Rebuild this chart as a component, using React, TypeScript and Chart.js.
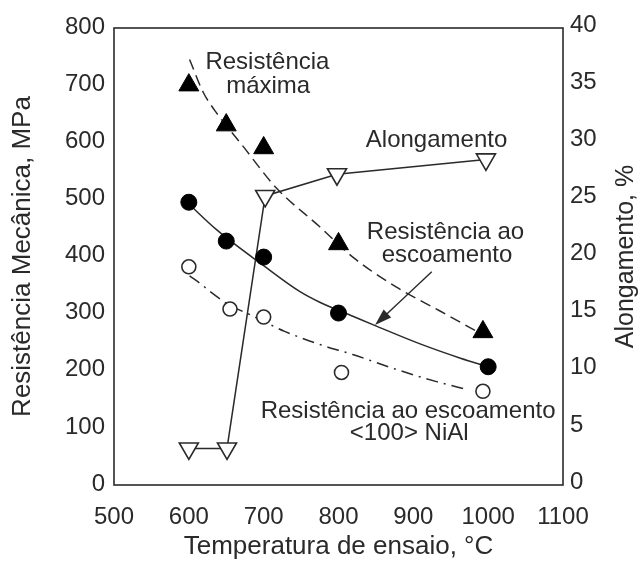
import React, { useEffect, useRef } from "react";
import { Chart, registerables } from "chart.js";

Chart.register(...registerables);

// ---- axis ranges ----
const X_MIN = 500;
const X_MAX = 1100;
const X_STEP = 100;
const Y_MIN = 0;
const Y_MAX = 800;
const Y_STEP = 100;
const Y1_MIN = 0;
const Y1_MAX = 40;
const Y1_STEP = 5;

// ---- Resistência máxima (filled triangles) ----
const maxStrengthTemp = [600, 650, 700, 800, 993];
const maxStrength = [700, 630, 590, 422, 268];
// dashed trend curve
const maxFitTemp = [601, 619, 635, 670, 717, 775, 820, 878, 935, 990];
const maxFit = [745, 688, 655, 597, 520, 452, 398, 346, 305, 265];

// ---- Resistência ao escoamento (filled circles) ----
const yieldTemp = [600, 650, 700, 800, 1000];
const yieldStrength = [495, 427, 399, 301, 207];
// solid trend curve
const yieldFitTemp = [600, 637, 700, 748, 775, 820, 849, 909, 963, 1000];
const yieldFit = [492, 447, 384, 339, 320, 295, 279, 247, 222, 207];

// ---- Resistência ao escoamento <100> NiAl (open circles) ----
const nialTemp = [600, 655, 700, 804, 993];
const nialStrength = [382, 308, 294, 197, 164];
// dash-dot trend curve
const nialFitTemp = [601, 617, 628, 653, 682, 728, 775, 820, 878, 931, 972];
const nialFit = [366, 351, 339, 316, 298, 269, 246, 228, 202, 181, 167];

// ---- Alongamento (open inverted triangles, right axis, %) ----
const elongTemp = [600, 651, 702, 798, 997];
const elongation = [3.2, 3.2, 25.3, 27.2, 28.5];

// ---- annotations (text baseline centre, in data units) ----
const noteTexts = [
  "Resistência",
  "máxima",
  "Alongamento",
  "Resistência ao",
  "escoamento",
  "Resistência ao escoamento",
  "<100> NiAl",
];
const noteTemp = [705, 706, 931, 943, 945, 893, 894.5];
const noteMPa = [729, 687, 592, 430, 391, 117, 79];

// arrow (from -> tip), data units
const arrowTemp = [924.6, 848.8];
const arrowMPa = [373.4, 280];

const X_TITLE = "Temperatura de ensaio, °C";
const Y_TITLE = "Resistência Mecânica, MPa";
const Y1_TITLE = "Alongamento, %";

const FONT = "'Liberation Sans', Arial, Helvetica, sans-serif";
const INK = "#2a2a2a";

const pts = (xs: number[], ys: number[]) => xs.map((x, i) => ({ x, y: ys[i] }));
const plain = (v: any) => String(v);

export default function App() {
  const ref = useRef<HTMLCanvasElement>(null);

  useEffect(() => {
    const canvas = ref.current;
    if (!canvas) return;

    const decor = {
      id: "decor",
      beforeDatasetsDraw(chart: any) {
        const { ctx, chartArea: a } = chart;
        ctx.save();
        ctx.strokeStyle = INK;
        ctx.lineWidth = 1.6;
        ctx.strokeRect(a.left, a.top, a.right - a.left, a.bottom - a.top);
        ctx.restore();
      },
      afterDatasetsDraw(chart: any) {
        const { ctx, scales, chartArea: a } = chart;
        const xs = scales.x;
        const ys = scales.y;
        ctx.save();
        ctx.fillStyle = INK;
        ctx.font = `24px ${FONT}`;
        ctx.textAlign = "center";
        ctx.textBaseline = "alphabetic";
        noteTexts.forEach((t, i) => {
          ctx.fillText(t, xs.getPixelForValue(noteTemp[i]), ys.getPixelForValue(noteMPa[i]));
        });

        // arrow
        const x0 = xs.getPixelForValue(arrowTemp[0]);
        const y0 = ys.getPixelForValue(arrowMPa[0]);
        const x1 = xs.getPixelForValue(arrowTemp[1]);
        const y1 = ys.getPixelForValue(arrowMPa[1]);
        const ang = Math.atan2(y1 - y0, x1 - x0);
        const L = 17;
        const W = 5.5;
        ctx.strokeStyle = INK;
        ctx.lineWidth = 1.4;
        ctx.beginPath();
        ctx.moveTo(x0, y0);
        ctx.lineTo(x1 - Math.cos(ang) * L * 0.8, y1 - Math.sin(ang) * L * 0.8);
        ctx.stroke();
        ctx.beginPath();
        ctx.moveTo(x1, y1);
        ctx.lineTo(
          x1 - Math.cos(ang) * L + Math.sin(ang) * W,
          y1 - Math.sin(ang) * L - Math.cos(ang) * W
        );
        ctx.lineTo(
          x1 - Math.cos(ang) * L - Math.sin(ang) * W,
          y1 - Math.sin(ang) * L + Math.cos(ang) * W
        );
        ctx.closePath();
        ctx.fill();

        // right axis title, reading bottom-to-top
        ctx.font = `25px ${FONT}`;
        ctx.textBaseline = "middle";
        ctx.translate(a.right + 63, (a.top + a.bottom) / 2);
        ctx.rotate(-Math.PI / 2);
        ctx.fillText(Y1_TITLE, 0, 0);
        ctx.restore();
      },
    };

    const chart = new Chart(canvas, {
      type: "line",
      data: {
        datasets: [
          {
            label: "Resistência máxima",
            data: pts(maxStrengthTemp, maxStrength),
            showLine: false,
            pointStyle: "triangle",
            pointRadius: 11.5,
            pointBackgroundColor: "#000",
            pointBorderColor: "#000",
            pointBorderWidth: 1,
            yAxisID: "y",
            order: 1,
          },
          {
            label: "Resistência ao escoamento",
            data: pts(yieldTemp, yieldStrength),
            showLine: false,
            pointStyle: "circle",
            pointRadius: 8,
            pointBackgroundColor: "#000",
            pointBorderColor: "#000",
            pointBorderWidth: 1,
            yAxisID: "y",
            order: 1,
          },
          {
            label: "Resistência ao escoamento <100> NiAl",
            data: pts(nialTemp, nialStrength),
            showLine: false,
            pointStyle: "circle",
            pointRadius: 7,
            pointBackgroundColor: "#fff",
            pointBorderColor: INK,
            pointBorderWidth: 1.6,
            yAxisID: "y",
            order: 1,
          },
          {
            label: "Alongamento",
            data: pts(elongTemp, elongation),
            showLine: true,
            borderColor: INK,
            borderWidth: 1.5,
            tension: 0,
            pointStyle: "triangle",
            pointRotation: 180,
            pointRadius: 11,
            pointBackgroundColor: "#fff",
            pointBorderColor: INK,
            pointBorderWidth: 1.6,
            yAxisID: "y1",
            order: 1,
          },
          {
            label: "fit máxima",
            data: pts(maxFitTemp, maxFit),
            showLine: true,
            borderColor: INK,
            borderWidth: 1.5,
            borderDash: [11, 6],
            cubicInterpolationMode: "monotone",
            pointRadius: 0,
            yAxisID: "y",
            order: 2,
          },
          {
            label: "fit escoamento",
            data: pts(yieldFitTemp, yieldFit),
            showLine: true,
            borderColor: INK,
            borderWidth: 1.5,
            cubicInterpolationMode: "monotone",
            pointRadius: 0,
            yAxisID: "y",
            order: 2,
          },
          {
            label: "fit NiAl",
            data: pts(nialFitTemp, nialFit),
            showLine: true,
            borderColor: INK,
            borderWidth: 1.5,
            borderDash: [12, 6, 2, 6],
            cubicInterpolationMode: "monotone",
            pointRadius: 0,
            yAxisID: "y",
            order: 2,
          },
        ],
      },
      options: {
        responsive: false,
        animation: false,
        devicePixelRatio: 1,
        layout: { padding: { top: 28, left: 0, right: 0, bottom: 0 } },
        plugins: {
          legend: { display: false },
          tooltip: { enabled: false },
        },
        scales: {
          x: {
            type: "linear",
            position: "bottom",
            min: X_MIN,
            max: X_MAX,
            grid: { display: false, drawTicks: false },
            border: { display: false },
            ticks: {
              stepSize: X_STEP,
              padding: 18,
              color: INK,
              font: { family: FONT, size: 24 },
              maxRotation: 0,
              callback: plain,
            },
            title: {
              display: true,
              text: X_TITLE,
              color: INK,
              font: { family: FONT, size: 26 },
              padding: { top: 0, bottom: 1 },
            },
            afterFit(scale: any) {
              scale.height = 78;
            },
          },
          y: {
            type: "linear",
            position: "left",
            min: Y_MIN,
            max: Y_MAX,
            grid: { display: false, drawTicks: false },
            border: { display: false },
            ticks: {
              stepSize: Y_STEP,
              padding: 9,
              labelOffset: -1,
              color: INK,
              font: { family: FONT, size: 24 },
              callback: plain,
            },
            title: {
              display: true,
              text: Y_TITLE,
              color: INK,
              font: { family: FONT, size: 26 },
              padding: { top: 7, bottom: 0 },
            },
            afterFit(scale: any) {
              scale.width = 114;
            },
          },
          y1: {
            type: "linear",
            position: "right",
            min: Y1_MIN,
            max: Y1_MAX,
            grid: { display: false, drawTicks: false },
            border: { display: false },
            ticks: {
              stepSize: Y1_STEP,
              padding: 7,
              labelOffset: -3,
              color: INK,
              font: { family: FONT, size: 24 },
              callback: plain,
            },
            afterFit(scale: any) {
              scale.width = 77;
            },
          },
        },
      },
      plugins: [decor],
    } as any);

    return () => chart.destroy();
  }, []);

  return (
    <div
      style={{
        position: "absolute",
        left: 0,
        top: 0,
        width: 640,
        height: 563,
        background: "#fff",
      }}
    >
      <canvas ref={ref} width={640} height={563} style={{ display: "block", width: 640, height: 563 }} />
    </div>
  );
}
